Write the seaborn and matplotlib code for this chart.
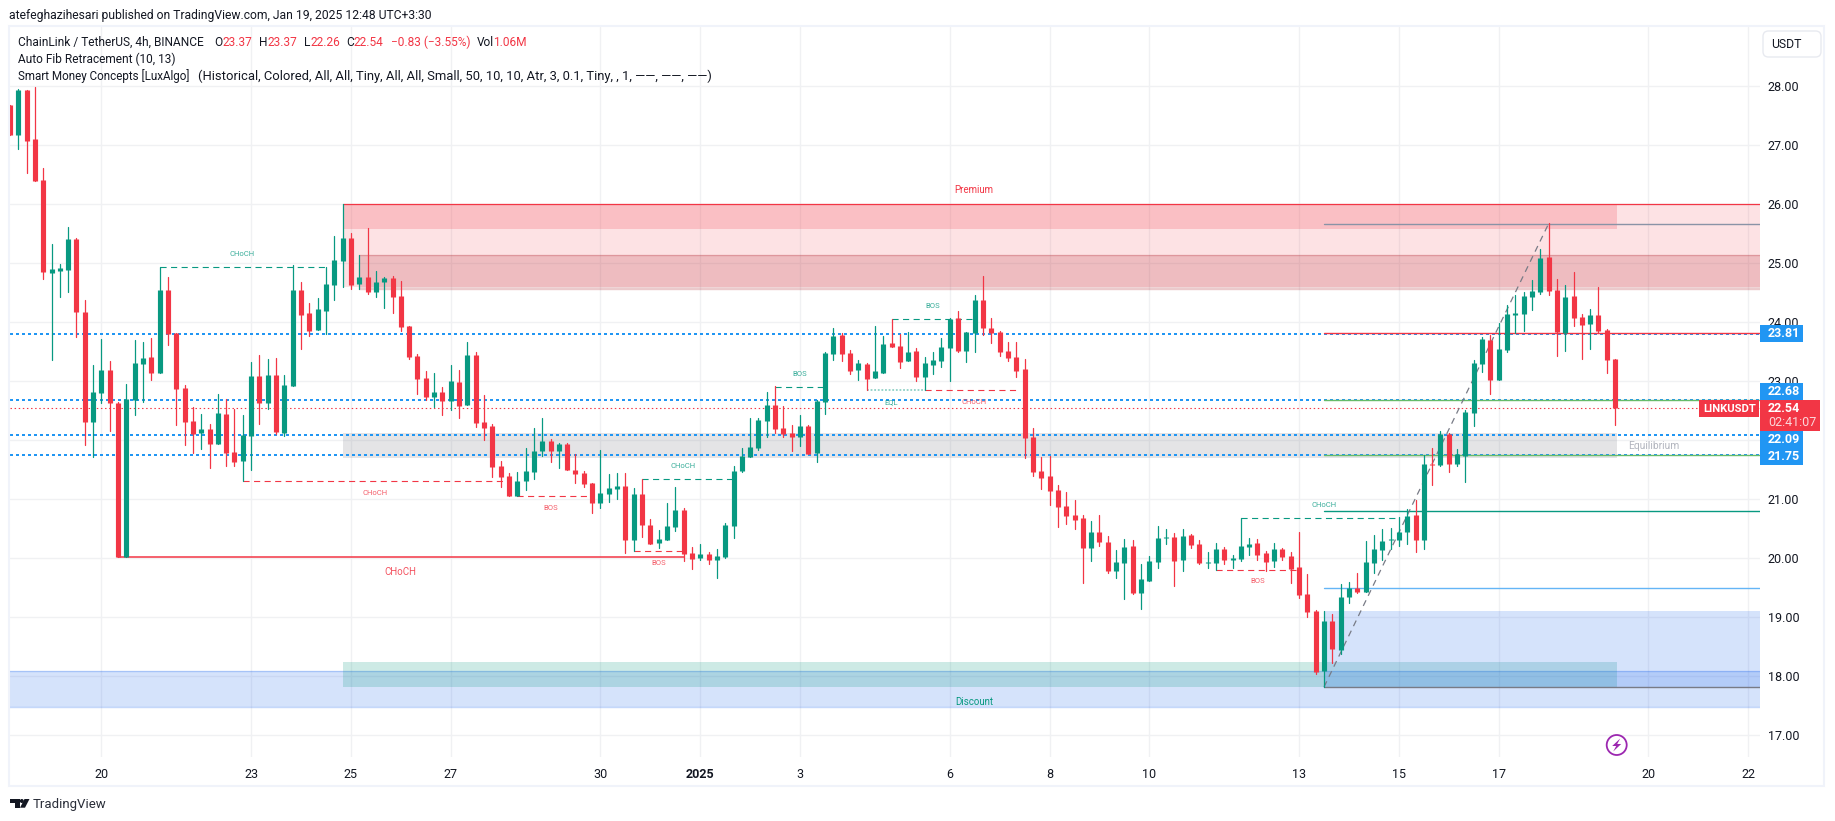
#!/usr/bin/env python
####Recreate LINKUSDT 4h TradingView chart with smart money zones
import pandas as pd
import seaborn as sns
import matplotlib.pyplot as plt
from matplotlib.patches import Rectangle, Circle, Polygon, FancyBboxPatch

####Candle values, one entry per 4h bar
opens=[27.68,27.17,27.94,27.11,26.41,24.84,24.87,24.89,25.41,24.17,
22.31,22.80,23.19,22.63,20.02,22.68,23.29,23.41,23.14,24.55,
23.82,22.89,22.33,22.12,22.19,21.94,22.45,21.80,21.65,22.07,
23.09,22.63,23.11,22.12,22.92,24.55,24.16,23.87,24.19,24.63,
25.04,25.43,24.65,24.77,24.51,24.68,24.75,24.45,23.94,23.43,
23.06,22.73,22.82,22.67,22.99,22.60,23.45,22.31,22.24,21.56,
21.39,21.06,21.31,21.46,21.82,21.99,21.82,21.94,21.50,21.45,
21.28,20.94,21.09,21.17,21.23,20.31,21.09,20.56,20.26,20.31,
20.53,20.82,20.09,20.01,20.07,19.97,20.02,20.55,21.48,21.72,
21.87,22.33,22.60,22.21,22.12,22.06,22.24,21.78,22.65,23.46,
23.78,23.48,23.19,23.29,23.05,23.14,23.65,23.60,23.34,23.51,
23.07,23.28,23.34,23.56,24.07,23.51,23.82,24.38,23.90,23.83,
23.51,23.41,23.21,22.06,21.48,21.39,21.16,20.89,20.73,20.68,
20.17,20.45,20.28,19.78,19.92,20.21,19.41,19.61,19.94,20.34,
20.36,19.97,20.39,20.24,19.92,19.92,20.16,19.97,19.99,20.19,
20.26,20.09,19.95,20.16,20.04,19.85,19.40,19.11,18.09,18.94,
18.45,19.34,19.50,19.43,19.92,20.14,20.31,20.31,20.45,20.73,
20.31,21.60,21.58,22.11,21.60,21.73,22.46,23.29,23.70,23.02,
23.53,24.12,24.14,24.43,24.51,25.11,24.55,23.82,24.45,24.09,
23.97,24.12,23.87,23.37]
highs=[27.68,27.95,27.94,27.98,26.61,25.33,24.99,25.62,25.43,24.38,
23.28,23.72,23.34,22.65,22.95,23.70,23.67,23.73,24.93,24.77,
23.82,22.94,22.57,22.45,22.28,22.79,22.70,22.53,22.43,23.33,
23.45,23.38,23.39,23.11,24.97,24.68,24.33,24.41,24.93,25.46,
26.01,25.51,25.14,25.60,24.87,24.77,24.78,24.70,23.94,23.46,
23.17,23.14,22.90,23.28,23.19,23.67,23.50,22.77,22.28,21.65,
21.45,21.46,21.87,22.21,22.38,22.02,21.95,21.95,21.77,21.48,
21.28,21.84,21.43,21.45,21.45,21.19,21.34,20.67,20.48,20.94,
21.21,20.85,20.19,20.24,20.11,20.16,20.60,21.56,21.87,22.38,
22.38,22.82,22.92,22.58,22.26,22.43,22.26,22.68,23.50,23.90,
23.82,23.53,23.36,23.31,23.94,23.77,24.05,23.80,23.83,23.56,
23.41,23.50,23.73,24.07,24.19,23.83,24.46,24.78,24.07,23.85,
23.67,23.67,23.38,22.21,21.72,21.73,21.24,21.12,20.99,20.73,
20.63,20.73,20.38,20.14,20.33,20.31,19.90,20.04,20.55,20.50,
20.43,20.50,20.41,20.31,20.11,20.26,20.19,20.06,20.68,20.34,
20.33,20.12,20.26,20.17,20.11,20.45,19.73,19.12,19.11,19.06,
19.56,19.60,19.75,20.29,20.40,20.50,20.51,20.70,20.84,20.99,
21.75,21.87,22.16,22.12,21.85,22.51,23.36,23.75,23.78,23.99,
24.29,24.46,24.51,24.72,25.24,25.68,24.73,24.63,24.85,24.14,
24.23,24.60,23.89,23.37]
lows=[27.17,26.94,26.53,26.40,24.73,23.36,24.43,24.51,23.75,21.92,
21.72,22.63,22.16,20.02,20.02,22.43,22.65,23.02,23.14,23.62,
22.26,21.92,21.79,21.85,21.53,21.94,21.56,21.56,21.31,21.50,
22.28,22.53,22.11,22.07,22.92,23.55,23.77,23.87,23.80,24.38,
24.60,24.56,24.56,24.48,24.43,24.24,24.16,23.85,23.38,22.78,
22.68,22.56,22.43,22.51,22.38,22.60,22.23,22.00,21.38,21.21,
21.06,21.06,21.16,21.34,21.73,21.63,21.53,21.50,21.28,21.21,
20.77,20.85,20.95,21.01,20.09,20.12,20.36,20.24,20.17,20.31,
20.46,19.95,19.82,19.97,19.90,19.67,20.01,20.34,21.46,21.72,
21.84,22.06,22.12,22.06,21.82,21.90,21.77,21.63,22.45,23.36,
23.34,23.12,23.02,22.86,23.05,23.14,23.58,23.23,23.34,23.00,
22.85,23.13,23.24,23.00,23.50,23.33,23.50,23.78,23.65,23.43,
23.34,23.07,21.70,21.39,21.17,20.90,20.53,20.58,20.50,19.58,
19.95,20.21,19.75,19.67,19.31,19.40,19.14,19.61,19.84,20.24,
19.53,19.78,20.17,19.90,19.84,19.80,19.90,19.84,19.95,20.06,
19.97,19.78,19.85,19.97,19.58,19.33,19.00,18.04,17.82,18.23,
18.38,19.24,19.41,19.43,19.75,19.97,20.16,20.21,20.24,20.11,
20.16,21.24,21.56,21.46,21.56,21.29,22.24,23.16,22.78,23.02,
23.50,23.82,23.85,24.21,24.48,24.46,23.43,23.51,23.94,23.38,
23.55,23.82,23.14,22.26]
closes=[27.17,27.94,27.07,26.40,24.85,24.90,24.92,25.41,24.17,22.31,
22.82,23.19,22.63,20.02,22.70,23.31,23.40,23.14,24.55,23.80,
22.87,22.31,22.11,22.19,21.94,22.46,21.79,21.63,22.09,23.09,
22.63,23.11,22.14,22.94,24.55,24.12,23.85,24.23,24.65,25.06,
25.43,24.63,24.77,24.51,24.68,24.75,24.43,23.92,23.41,23.04,
22.73,22.82,22.67,23.01,22.58,23.45,22.29,22.21,21.55,21.38,
21.06,21.31,21.48,21.82,21.99,21.82,21.94,21.50,21.43,21.26,
20.94,21.11,21.19,21.23,20.31,21.09,20.56,20.24,20.33,20.55,
20.82,20.07,19.99,20.07,19.97,20.04,20.56,21.48,21.73,21.89,
22.34,22.60,22.19,22.11,22.06,22.24,21.77,22.67,23.48,23.77,
23.46,23.17,23.31,23.04,23.17,23.63,23.58,23.33,23.50,23.07,
23.31,23.36,23.58,24.06,23.51,23.83,24.38,23.90,23.82,23.50,
23.39,23.17,22.04,21.46,21.36,21.14,20.87,20.72,20.65,20.17,
20.45,20.28,19.78,19.94,20.19,19.41,19.65,19.95,20.34,20.36,
19.95,20.38,20.23,19.92,19.94,20.16,19.97,20.00,20.21,20.24,
20.06,19.94,20.16,20.02,19.82,19.38,19.09,18.07,18.94,18.46,
19.34,19.50,19.43,19.94,20.16,20.29,20.33,20.45,20.72,20.31,
21.60,21.58,22.11,21.60,21.77,22.48,23.31,23.72,23.02,23.55,
24.14,24.16,24.45,24.53,25.09,24.53,23.83,24.43,24.07,23.95,
24.12,23.85,23.36,22.54]

####Axis ticks
price_ticks=[17,18,19,20,21,22,23,24,25,26,27,28]
date_bars=[11,29,41,53,71,83,95,113,125,137,155,167,179,197,209]
date_labels=["20","23","25","27","30","2025","3","6","8","10","13","15","17","20","22"]

####Horizontal rays
blue_levels=[23.81,22.68,22.09,21.75]
last_price=22.54
fib_levels=[25.67,23.82,22.68,21.75,20.81,19.50,17.82]
fib_colors=["#8a93a6","#F23645","#66BB6A","#66BB6A","#089981","#64B5F6","#787B86"]

####Zones: start bar, end bar, bottom, top, colour, alpha, edge line
right_bar=210.4
zones=[(40,right_bar,24.60,26.00,"#F23645",0.14,False),
(40,193.2,25.58,26.00,"#F23645",0.20,False),
(42,right_bar,24.57,25.14,"#B22833",0.20,True),
(40,193.2,21.70,22.12,"#787B86",0.20,False),
(-1,right_bar,17.48,18.09,"#1B64EE",0.18,True),
(40,193.2,17.82,18.24,"#089981",0.20,False),
(158,right_bar,17.82,19.11,"#1B64EE",0.18,False)]

####Structure breaks: start bar, end bar, price, colour, label, label bar, label price
breaks=[(18,38,24.93,"#089981","CHoCH",27.9,25.15),
(28,60,21.31,"#F23645","CHoCH",43.9,21.11),
(61,70,21.05,"#F23645","BOS",65,20.86),
(76,87,21.34,"#089981","CHoCH",80.9,21.56),
(75,81,20.12,"#F23645","BOS",78,19.92),
(92,98,22.91,"#089981","BOS",95,23.12),
(106,116,24.05,"#089981","BOS",111,24.27),
(110,121.5,22.85,"#F23645","CHoCH",115.9,22.65),
(148,167,20.68,"#089981","CHoCH",158,20.90),
(145,155,19.80,"#F23645","BOS",150,19.61)]

####Build tables for seaborn
bars=pd.DataFrame({"bar":range(len(opens)),"o":opens,"h":highs,"l":lows,"c":closes})
bars["dir"]=["up" if c>o else "down" for o,c in zip(opens,closes)]
palette={"up":"#089981","down":"#F23645"}
wicks=bars.melt(id_vars=["bar","dir"],value_vars=["l","h"],value_name="price")
bodies=bars.melt(id_vars=["bar","dir"],value_vars=["o","c"],value_name="price")

W,H=1835,821
sns.set_theme(style="white")
plt.rcParams['font.family']=['Roboto','DejaVu Sans']
fig=plt.figure(figsize=(W/100,H/100),dpi=100,facecolor="white")
ax=fig.add_axes([9.5/W,1-757/H,1750/W,730/H])

def fig_xy(x,y):
    return x/W,1-y/H

def box(x0,y0,x1,y1,color,z=5):
    fig.add_artist(Rectangle(fig_xy(x0,y1),(x1-x0)/W,(y1-y0)/H,transform=fig.transFigure,facecolor=color,edgecolor="none",zorder=z))

def poly(points,color,z=6):
    fig.add_artist(Polygon([fig_xy(x,y) for x,y in points],closed=True,transform=fig.transFigure,facecolor=color,edgecolor="none",zorder=z))

def ftext(x,y,s,color="#131722",size=8.7,ha="left",z=6,**kw):
    fig.text(x/W,1-y/H,s,color=color,fontsize=size,ha=ha,va="center",zorder=z,**kw)

####Zones
for x0,x1,b,t,col,a,edge in zones:
    ax.add_patch(Rectangle((x0,b),x1-x0,t-b,facecolor=col,alpha=a,edgecolor="none",zorder=1))
    if edge:
        ax.plot([x0,x1],[t,t],color=col,alpha=0.25,lw=1,zorder=1)
        ax.plot([x0,x1],[b,b],color=col,alpha=0.25,lw=1,zorder=1)
ax.plot([40,right_bar],[26.0,26.0],color="#F23645",lw=0.9,zorder=2)

####Rays
for lv in blue_levels:
    ax.axhline(lv,color="#2196F3",lw=1.44,ls=(0,(1.5,1.5)),zorder=3)
ax.axhline(last_price,color="#F23645",lw=0.8,ls=(0,(1.3,2.4)),zorder=3)
for lv,col in zip(fib_levels,fib_colors):
    ax.plot([158,right_bar],[lv,lv],color=col,lw=1,zorder=3)
ax.plot([158,185],[17.82,25.67],color="#787B86",lw=0.9,ls=(0,(5,4)),zorder=3)

####Structure lines
for x0,x1,p,col,lab,lx,ly in breaks:
    ax.plot([x0,x1],[p,p],color=col,lw=0.8,ls=(0,(5.5,4)),zorder=3)
    ax.text(lx,ly,lab,color=col,alpha=0.8,fontsize=5.5,ha="center",va="center",zorder=4)
ax.plot([13,81],[20.02,20.02],color="#F23645",lw=1.1,zorder=3)
ax.text(47,19.76,"CHoCH",color="#F23645",alpha=0.85,fontsize=7,ha="center",va="center")
ax.plot([103,110],[22.86,22.86],color="#089981",alpha=0.45,lw=1.3,ls=(0,(1,1)),zorder=3)
ax.text(106,22.65,"EQL",color="#089981",alpha=0.8,fontsize=5.5,ha="center",va="center")
ax.text(115.9,26.25,"Premium",color="#F23645",fontsize=7,ha="center",va="center")
ax.text(115.9,17.56,"Discount",color="#089981",fontsize=7,ha="center",va="center")
ax.text(194.6,21.91,"Equilibrium",color="#B2B5BE",fontsize=7.4,ha="left",va="center")

####Candles
sns.lineplot(data=wicks,x="bar",y="price",hue="dir",units="bar",estimator=None,palette=palette,
    lw=0.9,sort=False,legend=False,ax=ax,zorder=5)
sns.lineplot(data=bodies,x="bar",y="price",hue="dir",units="bar",estimator=None,palette=palette,
    lw=3.7,sort=False,legend=False,ax=ax,zorder=5,solid_capstyle="butt")

####Axes
ax.set_xlim(-0.05,210.36)
ax.set_ylim(16.632,29.005)
ax.set_xlabel("")
ax.set_ylabel("")
ax.yaxis.tick_right()
ax.set_yticks(price_ticks,["%.2f"%p for p in price_ticks])
ax.set_xticks(date_bars,date_labels)
ax.tick_params(axis="y",length=0,pad=6,labelsize=9,labelcolor="#131722")
ax.tick_params(axis="x",length=0,pad=8,labelsize=9,labelcolor="#131722")
ax.get_xticklabels()[5].set_fontweight("bold")
ax.grid(True,color="#F0F1F3",lw=1,zorder=0)
ax.set_axisbelow(True)
sns.despine(ax=ax,left=True,bottom=True,top=True,right=True)

####Panel border
fig.add_artist(Rectangle(fig_xy(9,786),1815/W,760/H,transform=fig.transFigure,facecolor="none",edgecolor="#F0F3FA",lw=1.5,zorder=4))

####Price labels
for y0,y1,s in [(325,342,"23.81"),(383,400,"22.68"),(431,448,"22.09"),(448,465,"21.75")]:
    box(1760,y0,1803,y1,"#2196F3")
    ftext(1768,(y0+y1)/2,s,color="white",size=9,fontweight="bold")
box(1760,400,1820,431,"#F23645")
ftext(1768,408.5,"22.54",color="white",size=9,fontweight="bold")
ftext(1768,422.5,"02:41:07",color="#FBD7DA",size=9)
box(1699,400,1759,417,"#F23645")
ftext(1703,408.5,"LINKUSDT",color="white",size=8.1,fontweight="bold")

####Header and legend
ftext(9,15,"atefeghazihesari published on TradingView.com, Jan 19, 2025 12:48 UTC+3:30",size=8.72)
ftext(18,42,"ChainLink / TetherUS, 4h, BINANCE",size=8.6)
red="#F23645"
for x,s,col in [(214.4,"O","#131722"),(222,"23.37",red),(259.4,"H","#131722"),(267,"23.37",red),
    (303.5,"L","#131722"),(310.4,"22.26",red),(346.6,"C","#131722"),(354,"22.54",red),
    (391,"\u22120.83 (\u22123.55%)",red),(476.6,"Vol","#131722"),(492.7,"1.06M",red)]:
    ftext(x,42,s,color=col,size=8.6)
ftext(18,59,"Auto Fib Retracement (10, 13)",size=8.6)
ftext(18,76,"Smart Money Concepts [LuxAlgo]",size=8.4)
ftext(198,76,"(Historical, Colored, All, All, Tiny, All, All, Small, 50, 10, 10, Atr, 3, 0.1, Tiny, , 1, \u2014\u2014, \u2014\u2014, \u2014\u2014)",size=9.35)

####Currency button
fig.add_artist(FancyBboxPatch(fig_xy(1763,57),58/W,26/H,boxstyle="round,pad=0,rounding_size=0.003",
    transform=fig.transFigure,facecolor="white",edgecolor="#E8EAF0",lw=1,mutation_aspect=W/H,zorder=5,
    clip_on=False))
ftext(1786,45,"USDT",size=8.8,ha="center")

####Lightning badge
cx,cy=1616.7,745
fig.add_artist(Circle((cx,H-cy),10,transform=None,facecolor="white",edgecolor="#9C27B0",lw=1.3,zorder=6))
poly([(cx+3.5,cy-6.5),(cx-4.5,cy+1),(cx-0.5,cy+1),(cx-3.5,cy+6.5),(cx+4.5,cy-1),(cx+0.5,cy-1)],"#9C27B0",z=7)

####Footer logo
poly([(10,799),(19.5,799),(19.5,807.7),(14.5,807.7),(14.5,803),(10,803)],"#131722")
fig.add_artist(Circle((21.8,H-801),2,transform=None,facecolor="#131722",edgecolor="none",zorder=6))
poly([(24.5,799),(29.5,799),(25,807.7),(20,807.7)],"#131722")
ftext(33,804,"TradingView",color="#2A2E39",size=9.5)

fig.savefig("out.png",dpi=100)
